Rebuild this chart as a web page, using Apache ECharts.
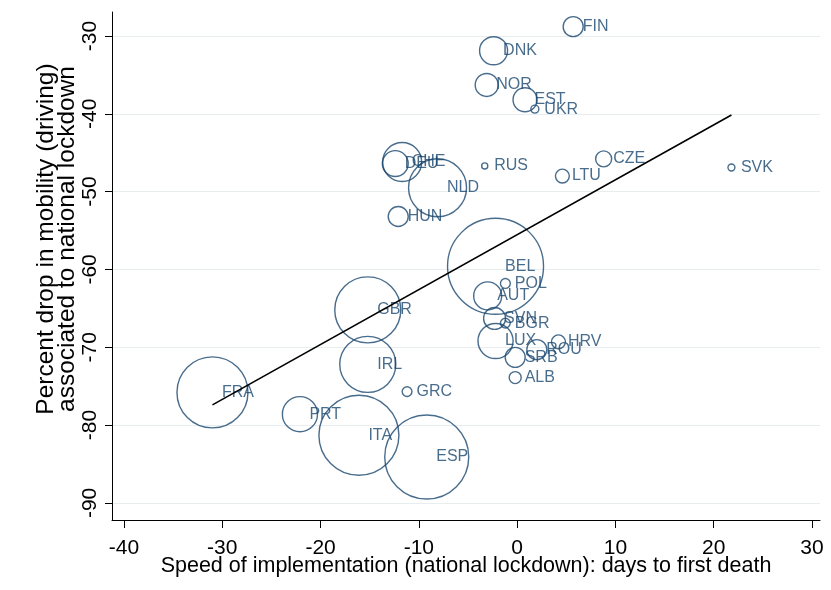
<!DOCTYPE html>
<html><head><meta charset="utf-8">
<script src="https://cdn.jsdelivr.net/npm/echarts@6/dist/echarts.min.js"></script>
<style>html,body{margin:0;padding:0;background:#fff}#c{width:831px;height:590px}</style>
</head><body><div id="c"></div>
<script>
// Country codes
const countries = ["FIN","DNK","NOR","EST","UKR","DEU","CHE","NLD","HUN","RUS","LTU","CZE","SVK","BEL","POL","AUT","SVN","BGR","LUX","SRB","ROU","HRV","ALB","GBR","IRL","GRC","FRA","PRT","ITA","ESP"];
// Speed of implementation: days to first death
const speed = [5.7,-2.4,-3.1,0.8,1.8,-12.4,-11.7,-8.1,-12.1,-3.3,4.6,8.8,21.8,-2.2,-1.2,-3.0,-2.3,-1.2,-2.2,-0.2,2.0,4.2,-0.2,-15.2,-15.2,-11.2,-31.0,-22.1,-16.1,-9.2];
// Percent drop in mobility (driving)
const mobility = [-28.8,-31.9,-36.3,-38.2,-39.4,-46.4,-46.2,-49.5,-53.2,-46.7,-48.0,-45.8,-46.9,-59.6,-61.8,-63.4,-66.3,-66.9,-69.2,-71.3,-70.3,-69.3,-73.9,-65.2,-72.2,-75.7,-75.8,-78.6,-81.3,-84.1];
// Bubble weight (area-proportional)
const weight = [25,49,33,36,4,42,95,210,25,2.3,12,16,3,576,6,49,30,6,77,25,25,12,9,272,196,6,315,77,400,441];
// Linear fit endpoints
const fitX = [-31.0, 21.8];
const fitY = [-77.4, -40.15];
// Tick labels
const xTicks = [-40,-30,-20,-10,0,10,20,30];
const yTicks = [-90,-80,-70,-60,-50,-40,-30];
const yTitle = 'Percent drop in mobility (driving)\nassociated to national lockdown';

const navy = '#1a476f';
const pts = countries.map((c,i)=>[speed[i], mobility[i], weight[i], c]);
const chart = echarts.init(document.getElementById('c'), null, {renderer:'canvas'});
chart.setOption({
  animation:false,
  backgroundColor:'#fff',
  grid:{left:112, right:11, top:12, bottom:70, outerBoundsMode:'none', containLabel:false},
  graphic:[{
    type:'text', x:57, y:239, rotation:Math.PI/2,
    style:{text:yTitle, align:'center', verticalAlign:'middle',
      font:'24.5px "Liberation Sans"', fill:'#000', lineHeight:21}
  }],
  xAxis:{
    type:'value', min:-41.22, max:30.81,
    name:'Speed of implementation (national lockdown): days to first death',
    nameLocation:'middle', nameGap:35, nameMoveOverlap:false,
    nameTextStyle:{fontFamily:'Liberation Sans', fontSize:21.5, color:'#000'},
    axisLine:{show:true, onZero:false, lineStyle:{color:'#000', width:1}},
    axisTick:{show:true, customValues:xTicks, length:8, lineStyle:{color:'#000'}},
    axisLabel:{customValues:xTicks, fontFamily:'Liberation Sans', fontSize:21, color:'#000', margin:18},
    splitLine:{show:false}
  },
  yAxis:{
    type:'value', min:-92.2, max:-26.92,
    axisLine:{show:true, onZero:false, lineStyle:{color:'#000', width:1}},
    axisTick:{show:true, customValues:yTicks, length:7, lineStyle:{color:'#000'}},
    axisLabel:{customValues:yTicks, rotate:90, fontFamily:'Liberation Sans', fontSize:21, color:'#000', margin:11},
    splitLine:{show:true, lineStyle:{color:'#e8eef0', width:1}}
  },
  series:[
    {
      type:'scatter', data:pts, symbol:'circle',
      symbolSize:v=>4*Math.sqrt(v[2]),
      itemStyle:{color:'rgba(0,0,0,0)', borderColor:navy, borderWidth:1.4},
      emphasis:{disabled:true}, z:3
    },
    {
      type:'scatter', data:pts, symbol:'circle', symbolSize:1,
      itemStyle:{color:'rgba(0,0,0,0)'},
      label:{show:true, position:'right', distance:9, formatter:p=>p.data[3],
        fontFamily:'Liberation Sans', fontSize:16, color:navy},
      emphasis:{disabled:true}, z:4
    },
    {
      type:'line', data:fitX.map((x,i)=>[x, fitY[i]]), symbol:'none',
      lineStyle:{color:'#000', width:1.6}, z:5, emphasis:{disabled:true}
    }
  ]
});
</script></body></html>
